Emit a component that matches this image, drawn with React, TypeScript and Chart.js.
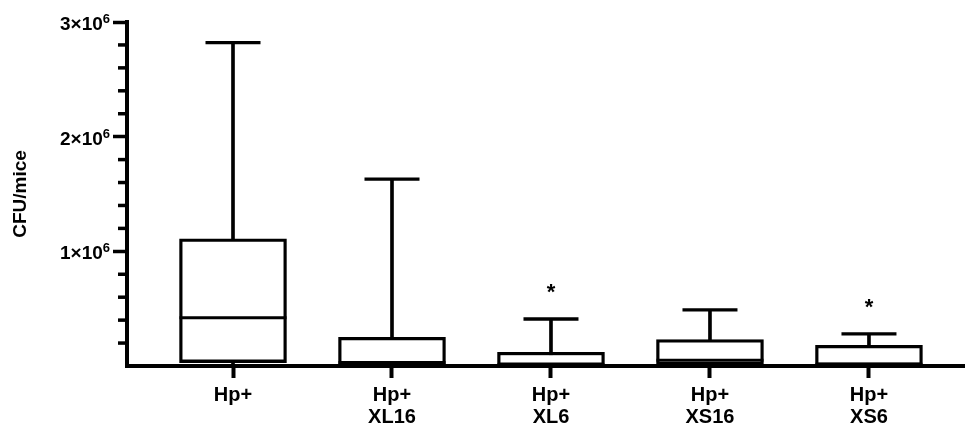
import React, { useEffect, useRef } from 'react';
import { Chart, registerables } from 'chart.js';

Chart.register(...registerables);

const categories: string[][] = [['Hp+'], ['Hp+', 'XL16'], ['Hp+', 'XL6'], ['Hp+', 'XS16'], ['Hp+', 'XS6']];
const whiskerLow = [0, 0, 0, 0, 0];
const q1Values = [30000, 5000, 5000, 10000, 5000];
const medianValues = [420000, 30000, 10000, 50000, 15000];
const q3Values = [1110000, 250000, 120000, 230000, 180000];
const whiskerHigh = [2820000, 1630000, 410000, 490000, 280000];
const significance = ['', '', '*', '', '*'];
const yMajorValues = [1000000, 2000000, 3000000];
const yMajorBase = ['1×10', '2×10', '3×10'];
const yMajorExponent = ['6', '6', '6'];

const FONT = "'Liberation Sans', Arial, Helvetica, sans-serif";

const isMajor = (v: number) => yMajorValues.some((m) => Math.abs(m - v) < 1);

const extrasPlugin = {
  id: 'boxExtras',
  afterDatasetsDraw(chart: any) {
    const { ctx, scales } = chart;
    const xs = scales.x;
    const ys = scales.y;
    const left = chart.chartArea.left;
    ctx.save();
    ctx.strokeStyle = '#000';
    ctx.lineWidth = 3.5;
    ys.ticks.forEach((t: any) => {
      if (t.value === 0 || isMajor(t.value)) return;
      const py = ys.getPixelForValue(t.value);
      ctx.beginPath();
      ctx.moveTo(left - 9, py);
      ctx.lineTo(left, py);
      ctx.stroke();
    });
    ctx.fillStyle = '#000';
    ctx.textBaseline = 'alphabetic';
    yMajorValues.forEach((v, i) => {
      const py = ys.getPixelForValue(v);
      const right = left - 17;
      ctx.font = `bold 13px ${FONT}`;
      ctx.textAlign = 'right';
      const ew = ctx.measureText(yMajorExponent[i]).width;
      ctx.fillText(yMajorExponent[i], right, py + 1);
      ctx.font = `bold 19px ${FONT}`;
      ctx.fillText(yMajorBase[i], right - ew, py + 8);
    });
    ctx.font = `bold 22px ${FONT}`;
    ctx.textAlign = 'center';
    ctx.textBaseline = 'middle';
    significance.forEach((s, i) => {
      if (!s) return;
      const px = xs.getPixelForValue(i + 1);
      const py = ys.getPixelForValue(whiskerHigh[i]) - 26;
      ctx.fillText(s, px, py);
    });
    ctx.restore();
  },
};

export default function App() {
  const ref = useRef<HTMLCanvasElement>(null);
  useEffect(() => {
    document.body.style.margin = '0';
    const xPos = categories.map((_, i) => i + 1);
    const chart = new Chart(ref.current as HTMLCanvasElement, {
      type: 'bar',
      data: {
        datasets: [
          {
            type: 'line',
            data: xPos.map((x, i) => ({ x, y: medianValues[i] })),
            showLine: false,
            pointStyle: 'line',
            pointRadius: 53.5,
            pointHoverRadius: 53.5,
            pointBorderWidth: 3,
            pointBorderColor: '#000',
            clip: false,
            order: 1,
          } as any,
          {
            type: 'line',
            data: xPos.map((x, i) => ({ x, y: whiskerHigh[i] })),
            showLine: false,
            pointStyle: 'line',
            pointRadius: 27.5,
            pointHoverRadius: 27.5,
            pointBorderWidth: 3.3,
            pointBorderColor: '#000',
            clip: false,
            order: 1,
          } as any,
          {
            type: 'line',
            data: xPos.map((x, i) => ({ x, y: whiskerLow[i] })),
            showLine: false,
            pointStyle: 'line',
            pointRadius: 27.5,
            pointHoverRadius: 27.5,
            pointBorderWidth: 3.3,
            pointBorderColor: '#000',
            clip: false,
            order: 1,
          } as any,
          {
            type: 'bar',
            data: xPos.map((x, i) => ({ x, y: [q1Values[i], q3Values[i]] })),
            backgroundColor: '#fff',
            borderColor: '#000',
            borderWidth: 3.3,
            borderSkipped: false,
            barThickness: 107,
            grouped: false,
            order: 2,
          } as any,
          {
            type: 'bar',
            data: xPos.map((x, i) => ({ x, y: [whiskerLow[i], whiskerHigh[i]] })),
            backgroundColor: '#000',
            borderWidth: 0,
            barThickness: 3,
            grouped: false,
            order: 3,
          } as any,
        ],
      },
      options: {
        animation: false,
        responsive: false,
        events: [],
        layout: { autoPadding: false, padding: { top: 22, left: 0, right: 0, bottom: 0 } },
        plugins: { legend: { display: false }, tooltip: { enabled: false } },
        scales: {
          x: {
            type: 'linear',
            min: 0.3333,
            max: 5.604,
            offset: false,
            afterBuildTicks: (axis: any) => {
              axis.ticks = xPos.map((v) => ({ value: v }));
            },
            afterFit: (s: any) => {
              s.height = 61;
              s.paddingLeft = 0;
              s.paddingRight = 0;
            },
            border: { display: true, color: '#000', width: 4 },
            grid: { offset: false, drawOnChartArea: false, drawTicks: true, tickLength: 12, tickWidth: 4, tickColor: '#000' },
            ticks: {
              autoSkip: false,
              maxRotation: 0,
              minRotation: 0,
              padding: 6,
              color: '#000',
              font: { family: FONT, size: 20, weight: 'bold', lineHeight: 1.1 },
              callback: (_v: any, i: number) => categories[i],
            },
          } as any,
          y: {
            min: 0,
            max: 3000000,
            afterFit: (s: any) => {
              s.width = 127;
              s.paddingTop = 0;
              s.paddingBottom = 0;
            },
            border: { display: true, color: '#000', width: 4 },
            grid: {
              drawOnChartArea: false,
              drawTicks: true,
              tickLength: 14,
              tickWidth: 3.5,
              tickColor: (c: any) => (c.tick && isMajor(c.tick.value) ? '#000' : 'rgba(0,0,0,0)'),
            },
            ticks: {
              stepSize: 200000,
              autoSkip: false,
              padding: 3,
              color: '#000',
              font: { family: FONT, size: 19, weight: 'bold' },
              callback: () => '',
            },
            title: {
              display: true,
              text: 'CFU/mice',
              color: '#000',
              font: { family: FONT, size: 19, weight: 'bold' },
              padding: { top: 9, bottom: 0 },
            },
          } as any,
        },
      },
      plugins: [extrasPlugin],
    });
    return () => chart.destroy();
  }, []);
  return (
    <div style={{ width: 965, height: 427 }}>
      <canvas ref={ref} width={965} height={427} style={{ display: 'block' }} />
    </div>
  );
}
